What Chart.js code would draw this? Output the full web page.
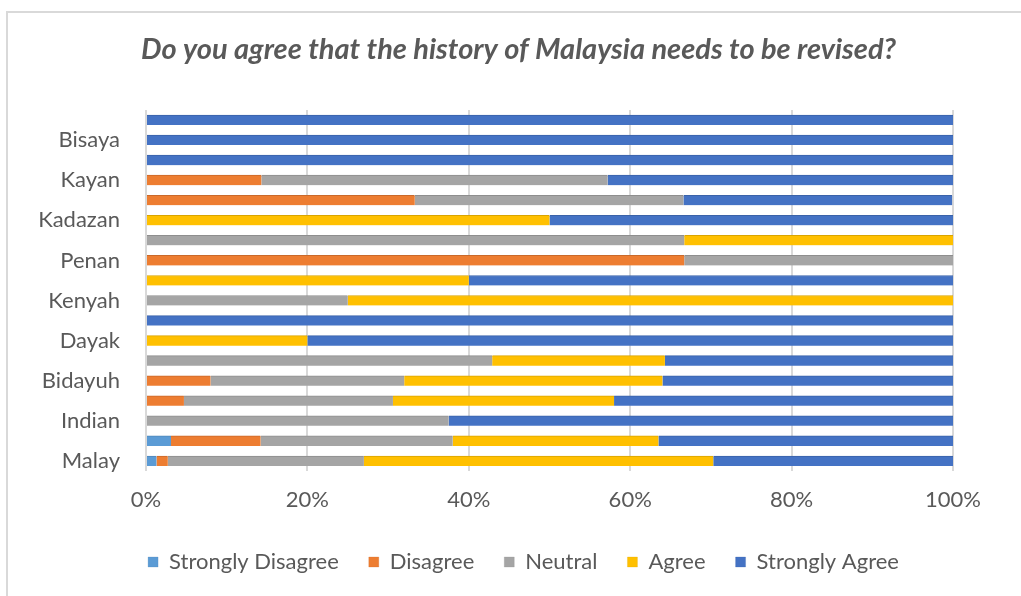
<!DOCTYPE html>
<html>
<head>
<meta charset="utf-8">
<script src="https://cdn.jsdelivr.net/npm/chart.js@4.4.1/dist/chart.umd.min.js"></script>
<style>
  body { margin: 0; background: #fff; }
  #wrap { position: relative; width: 1021px; height: 596px; overflow: hidden; }
  #frame { position: absolute; left: 6px; top: 11px; width: 1040px; height: 620px; border: 2px solid #d9d9d9; box-sizing: border-box; }
  canvas { position: absolute; left: 0; top: 0; }
</style>
</head>
<body>
<div id="wrap">
  <div id="frame"></div>
  <canvas id="surveyChart" width="1021" height="596"></canvas>
</div>
<script>
// Categories from bottom to top (only every other one is labelled in the original)
const groups = ['Malay', 'Chinese', 'Indian', 'Iban', 'Bidayuh', 'Melanau', 'Dayak', 'Kelabit',
    'Kenyah', 'Bajau', 'Penan', 'Murut', 'Kadazan', 'Lun Bawang', 'Kayan', 'Orang Ulu', 'Bisaya', 'Others'];

// Share of answers (%) per group
const stronglyDisagree = [1.3, 3.1, 0, 0, 0, 0, 0, 0, 0, 0, 0, 0, 0, 0, 0, 0, 0, 0];
const disagree = [1.4, 11.1, 0, 4.7, 8, 0, 0, 0, 0, 0, 66.7, 0, 0, 33.3, 14.3, 0, 0, 0];
const neutral = [24.3, 23.8, 37.5, 25.9, 24, 42.9, 0, 0, 25, 0, 33.3, 66.7, 0, 33.3, 42.9, 0, 0, 0];
const agree = [43.3, 25.5, 0, 27.4, 32, 21.4, 20, 0, 75, 40, 0, 33.3, 50, 0, 0, 0, 0, 0];
const stronglyAgree = [29.7, 36.5, 62.5, 42, 36, 35.7, 80, 100, 0, 60, 0, 0, 50, 33.3, 42.9, 100, 100, 100];

const tickLabels = ['0%', '20%', '40%', '60%', '80%', '100%'];

const seriesNames = ['Strongly Disagree', 'Disagree', 'Neutral', 'Agree', 'Strongly Agree'];
const seriesColors = ['#5b9bd5', '#ed7d31', '#a5a5a5', '#ffc000', '#4472c4'];
const seriesEdges = ['#4f86b8', '#c9692a', '#8e8e8e', '#d9a400', '#3a62a8'];
const seriesData = [stronglyDisagree, disagree, neutral, agree, stronglyAgree];

const textColor = '#595959';
const fontFamily = "Lato, 'Open Sans', sans-serif";

// Title and legend are centred on the whole chart box, not on the plot area
const recenterBlocks = {
    id: 'recenterBlocks',
    afterLayout(chart) {
        chart.titleBlock.left = 16;
        chart.titleBlock.right = 1021;
        chart.legend.left = 26;
        chart.legend.right = 1021;
    }
};

const ctx = document.getElementById('surveyChart').getContext('2d');
const surveyChart = new Chart(ctx, {
    type: 'bar',
    data: {
        labels: groups,
        datasets: seriesNames.map((name, i) => ({
            label: name,
            data: seriesData[i],
            backgroundColor: seriesColors[i],
            borderColor: seriesEdges[i],
            borderWidth: { top: 1, right: 0, bottom: 0, left: 0 },
            borderSkipped: false,
            barThickness: 10
        }))
    },
    options: {
        indexAxis: 'y',
        responsive: false,
        animation: false,
        layout: {
            padding: { left: 0, right: 68, top: 10, bottom: 13 }
        },
        scales: {
            x: {
                stacked: true,
                min: 0,
                max: 100,
                border: { display: false },
                grid: { color: '#d9d9d9', lineWidth: 2, drawTicks: false },
                afterFit: (scale) => { scale.height = 50; },
                ticks: {
                    stepSize: 20,
                    padding: 16,
                    color: textColor,
                    font: { family: fontFamily, size: 22 },
                    callback: (value) => tickLabels[value / 20]
                }
            },
            y: {
                stacked: true,
                reverse: true,
                border: { display: false },
                grid: { display: false, drawTicks: false },
                afterFit: (scale) => { scale.width = 146; },
                ticks: {
                    autoSkip: false,
                    padding: 26,
                    color: textColor,
                    font: { family: fontFamily, size: 22 },
                    callback: (value, index) => index % 2 === 0 ? groups[index] : ''
                }
            }
        },
        plugins: {
            title: {
                display: true,
                text: 'Do you agree that the history of Malaysia needs to be revised?',
                color: textColor,
                font: { family: fontFamily, size: 29, style: 'italic', weight: 'bold' },
                padding: { top: 22.6, bottom: 42.6 }
            },
            legend: {
                position: 'bottom',
                labels: {
                    boxWidth: 10,
                    boxHeight: 10,
                    padding: 30,
                    color: textColor,
                    font: { family: fontFamily, size: 22 }
                }
            },
            tooltip: { enabled: false }
        }
    },
    plugins: [recenterBlocks]
});
</script>
</body>
</html>
